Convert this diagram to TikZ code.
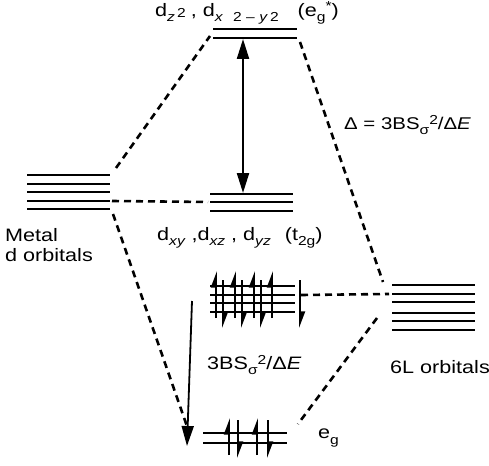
\documentclass[tikz,border=0pt]{standalone}
\usepackage{fontspec}
\setmainfont{Liberation Sans}[FakeStretch=1.2]
\usetikzlibrary{arrows.meta}
\newcommand{\sbs}[1]{\raisebox{-0.55ex}{\fontsize{13}{13}\selectfont #1}}
\newcommand{\sps}[1]{\raisebox{0.55ex}{\fontsize{13}{13}\selectfont #1}}
\begin{document}
\begin{tikzpicture}[x=1pt,y=-1pt,
  lvl/.style={line width=2.8pt},
  dsh/.style={line width=2.6pt, dash pattern=on 7pt off 5pt},
  lbl/.style={inner sep=0pt, anchor=west, font=\fontsize{18}{21}\selectfont},
  bigarr/.style={line width=2.2pt},
  eup/.style={line width=1.8pt, -{Triangle[left,length=14pt,width=10pt]}},
]
\useasboundingbox (0,0) rectangle (489,465);
% metal d orbitals
\foreach \y [count=\i] in {175,184,192,201,209}
  {\coordinate (mL\i) at (27,\y); \coordinate (mR\i) at (110,\y); \draw[lvl] (mL\i) -- (mR\i);}
% eg* levels
\foreach \y [count=\i] in {29,38}
  {\coordinate (aL\i) at (213,\y); \coordinate (aR\i) at (297,\y); \draw[lvl] (aL\i) -- (aR\i);}
% t2g levels
\foreach \y [count=\i] in {194,202,211}
  {\coordinate (tL\i) at (210,\y); \coordinate (tR\i) at (293,\y); \draw[lvl] (tL\i) -- (tR\i);}
% 6L levels
\foreach \y [count=\i] in {285,294,302,313,321,330}
  {\coordinate (lL\i) at (392,\y); \coordinate (lR\i) at (475,\y); \draw[lvl] (lL\i) -- (lR\i);}
% middle bonding levels
\foreach \y [count=\i] in {286,295,303,312}
  {\coordinate (bL\i) at (210,\y); \coordinate (bR\i) at (295,\y); \draw[lvl] (bL\i) -- (bR\i);}
% eg bonding levels
\foreach \y [count=\i] in {433,443}
  {\coordinate (gL\i) at (203,\y); \coordinate (gR\i) at (287,\y); \draw[lvl] (gL\i) -- (gR\i);}

% dashed correlation lines
\coordinate (d1a) at (116,168); \coordinate (d1b) at (210,36);
\coordinate (d3a) at (113,214); \coordinate (d3b) at (189,432);
\coordinate (d4a) at (300,42);  \coordinate (d4b) at (383,282);
\coordinate (d6a) at (377,318); \coordinate (d6b) at (298,424);
\draw[dsh] (d1a) -- (d1b);
\draw[dsh] ([xshift=2pt]mR4) -- ([xshift=-2pt]tL2);
\draw[dsh] (d3a) -- (d3b);
\draw[dsh] (d4a) -- (d4b);
\draw[dsh] ([xshift=6pt]bR2) -- ([xshift=-3pt]lL2);
\draw[dsh] (d6a) -- (d6b);

% double arrow
\coordinate (arT) at (243,39); \coordinate (arB) at (243,193);
\draw[bigarr, {Triangle[length=20pt,width=12pt]}-{Triangle[length=20pt,width=12pt]}] (arT) -- (arB);
% long down arrow
\coordinate (laT) at (192,301); \coordinate (laB) at (187,446);
\draw[line width=1.8pt, -{Triangle[length=20pt,width=12pt]}] (laT) -- (laB);

% electrons middle block
\foreach \x in {216,235,254,272}
  {\coordinate (u\x a) at (\x,318); \coordinate (u\x b) at (\x,271);
   \draw[eup] (u\x a) -- (u\x b);}
\foreach \x in {223,242,261,300}
  {\coordinate (v\x a) at (\x,280); \coordinate (v\x b) at (\x,328);
   \draw[eup] (v\x a) -- (v\x b);}
% electrons eg
\foreach \x in {229,257}
  {\coordinate (p\x a) at (\x,455); \coordinate (p\x b) at (\x,418);
   \draw[eup] (p\x a) -- (p\x b);}
\foreach \x in {238,268}
  {\coordinate (q\x a) at (\x,420); \coordinate (q\x b) at (\x,458);
   \draw[eup] (q\x a) -- (q\x b);}

% labels
\node[lbl] (top) at (155,13) {d\sbs{\textit{z}\,\sps{2}}\;, d\sbs{\textit{x}\;\, 2 -- \textit{y}\,2}\;\;\, (e\sbs{g}\sps{*})};
\node[lbl, font=\fontsize{17}{20}\selectfont] (delta) at (344,125) {Δ = 3BS\sbs{σ}\sps{2}/Δ\textit{E}};
\node[lbl] (metal) at (5,235) {Metal};
\node[lbl] (dorb) at (5,255) {d orbitals};
\node[lbl] (t2g) at (157,238) {d\sbs{\textit{xy}} ,d\sbs{\textit{xz}} , d\sbs{\textit{yz}}\;\, (t\sbs{2g})};
\node[lbl] (split) at (207,365) {3BS\sbs{σ}\sps{2}/Δ\textit{E}};
\node[lbl] (sixl) at (390,367) {6L orbitals};
\node[lbl] (eg) at (318,438) {e\sbs{g}};
\end{tikzpicture}
\end{document}
